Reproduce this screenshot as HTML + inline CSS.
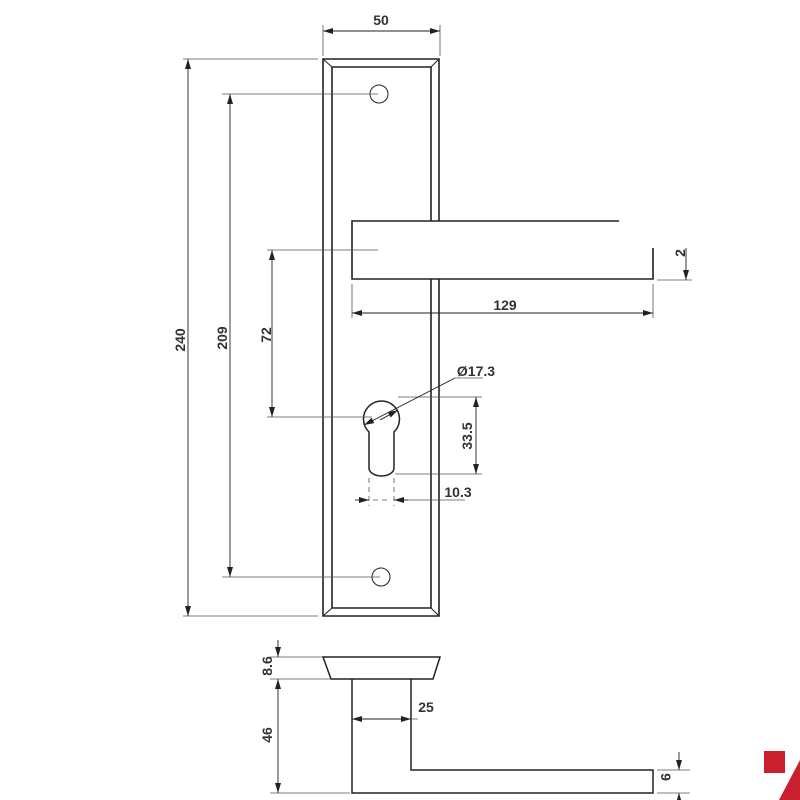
<!DOCTYPE html>
<html><head><meta charset="utf-8"><style>
html,body{margin:0;padding:0;background:#fff;width:800px;height:800px;overflow:hidden}
text{font-family:"Liberation Sans",Arial,sans-serif;font-size:14px;font-weight:bold;fill:#333}
</style></head><body>
<svg width="800" height="800" viewBox="0 0 800 800" xmlns="http://www.w3.org/2000/svg">
<defs>
<marker id="a" viewBox="0 0 10 6" refX="10" refY="3" markerWidth="11" markerHeight="6" orient="auto-start-reverse" markerUnits="userSpaceOnUse"><path d="M0,0 L10,3 L0,6z" fill="#222"/></marker>
</defs>
<g stroke="#222" fill="none">
<g stroke-width="1.6">
<path d="M439,221 V59 H323 V616 H439 V279"/>
<path d="M431,221 V67 H332 V608 H431 V279"/>
</g>
<g stroke-width="1">
<path d="M323,59 L332,67 M439,59 L431,67 M323,616 L332,608 M439,616 L431,608"/>
<circle cx="379" cy="94" r="9"/>
<circle cx="381" cy="577" r="9"/>
</g>
<path stroke-width="1.6" d="M619,221 H352 V279 H653 V248"/>
<path stroke-width="1.5" d="M369,432 A18,18 0 1 1 394,432 V468 A12.5,8 0 0 1 369,468 Z"/>
<g stroke-width="1.5">
<path d="M323,657 H440 L433,679 H331 Z"/>
<path d="M352,679 V793 H653 V770 H411 V679"/>
</g>
<g stroke-width="0.8" stroke="#555">
<path d="M323,25 V56 M440,25 V56"/>
<path d="M183,59 H318 M183,616 H318"/>
<path d="M222,94 H378 M222,577 H380"/>
<path d="M267,250 H378 M267,417 H372"/>
<path d="M352,284 V318 M653,284 V318"/>
<path d="M657,280 H692"/>
<path d="M398,397 H482 M395,474 H482"/>
<path d="M369,478 V506 M394,478 V506 M373,500 H390" stroke-dasharray="5,4"/>
<path d="M394,500 H465"/>
<path d="M455,378 H483"/>
<path d="M270,657 H322 M270,679 H330 M270,793 H350"/>
<path d="M400,719 H418"/>
<path d="M657,770 H690 M657,793 H690"/>
</g>
<g stroke-width="0.9">
<line x1="323" y1="31" x2="440" y2="31" marker-start="url(#a)" marker-end="url(#a)"/>
<line x1="188" y1="59" x2="188" y2="616" marker-start="url(#a)" marker-end="url(#a)"/>
<line x1="230" y1="94" x2="230" y2="577" marker-start="url(#a)" marker-end="url(#a)"/>
<line x1="272" y1="250" x2="272" y2="417" marker-start="url(#a)" marker-end="url(#a)"/>
<line x1="352" y1="313" x2="653" y2="313" marker-start="url(#a)" marker-end="url(#a)"/>
<line x1="686" y1="248" x2="686" y2="280" marker-end="url(#a)"/>
<line x1="476" y1="397" x2="476" y2="474" marker-start="url(#a)" marker-end="url(#a)"/>
<line x1="355" y1="500" x2="369" y2="500" marker-end="url(#a)"/>
<line x1="408" y1="500" x2="394" y2="500" marker-end="url(#a)"/>
<line x1="455" y1="378" x2="364" y2="425" marker-end="url(#a)"/>
<line x1="380" y1="420" x2="398" y2="410" marker-end="url(#a)"/>
<line x1="278" y1="640" x2="278" y2="657" marker-end="url(#a)"/>
<line x1="278" y1="679" x2="278" y2="793" marker-start="url(#a)" marker-end="url(#a)"/>
<line x1="352" y1="719" x2="411" y2="719" marker-start="url(#a)" marker-end="url(#a)"/>
<line x1="679" y1="752" x2="679" y2="770" marker-end="url(#a)"/>
<line x1="679" y1="808" x2="679" y2="793" marker-end="url(#a)"/>
</g>
</g>
<text x="381" y="25" text-anchor="middle">50</text>
<text x="505" y="310" text-anchor="middle">129</text>
<text x="476" y="376" text-anchor="middle">Ø17.3</text>
<text x="458" y="497" text-anchor="middle">10.3</text>
<text x="426" y="712" text-anchor="middle">25</text>
<text transform="translate(185,340) rotate(-90)" text-anchor="middle">240</text>
<text transform="translate(227,338) rotate(-90)" text-anchor="middle">209</text>
<text transform="translate(271,335) rotate(-90)" text-anchor="middle">72</text>
<text transform="translate(472,436) rotate(-90)" text-anchor="middle">33.5</text>
<text transform="translate(685,253) rotate(-90)" text-anchor="middle">2</text>
<text transform="translate(272,666) rotate(-90)" text-anchor="middle">8.6</text>
<text transform="translate(272,735) rotate(-90)" text-anchor="middle">46</text>
<text transform="translate(661,777) rotate(90)" text-anchor="middle">9</text>
<rect x="764" y="751" width="21" height="22" fill="#c8202f"/>
<path d="M800,760 V800 H779 Z" fill="#c8202f"/>
</svg>
</body></html>
